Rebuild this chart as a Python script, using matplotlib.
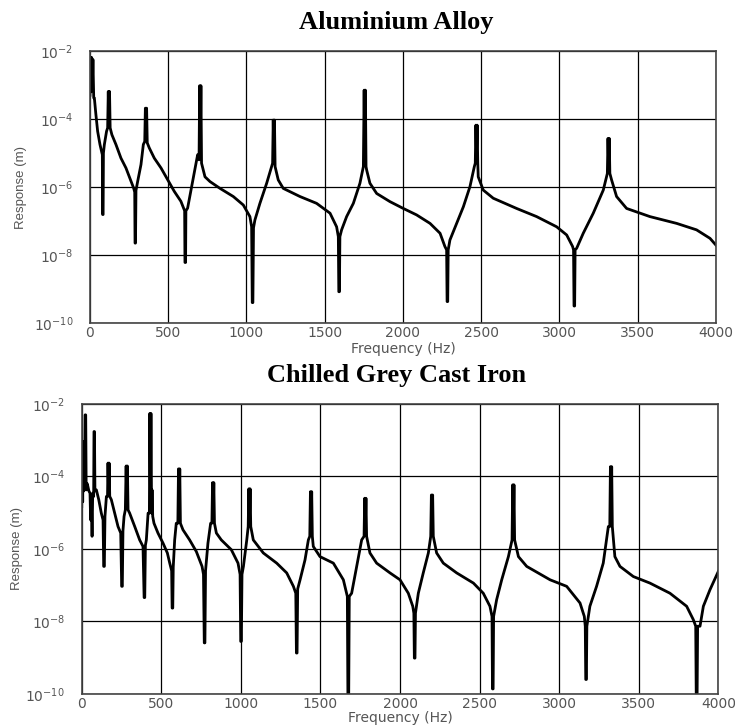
import numpy as np
import matplotlib
matplotlib.use("Agg")
import matplotlib.pyplot as plt
from matplotlib.ticker import NullLocator

# values: frequency (Hz) and log10 of response (m)
alu_freq = [0, 3, 7, 11, 15, 19, 24, 28, 38, 49, 64, 74, 79, 81, 84, 86, 92, 106, 113, 117,
            121, 125, 129, 140, 166, 198, 230, 262, 279, 286, 288, 291, 294, 305, 326, 341,
            350, 354, 358, 362, 366, 379, 411, 454, 496, 539, 581, 598, 605, 607, 611, 613,
            624, 656, 688, 697, 701, 705, 709, 713, 735, 767, 831, 916, 980, 1022, 1033,
            1037, 1041, 1045, 1054, 1086, 1129, 1161, 1167, 1171, 1175, 1179, 1183, 1203,
            1235, 1342, 1448, 1534, 1576, 1587, 1590, 1594, 1597, 1608, 1640, 1683, 1725,
            1747, 1752, 1756, 1760, 1764, 1768, 1789, 1832, 1917, 2002, 2087, 2173, 2237,
            2268, 2279, 2282, 2286, 2289, 2300, 2343, 2386, 2428, 2456, 2462, 2466, 2470,
            2474, 2478, 2481, 2513, 2577, 2726, 2854, 2982, 3046, 3084, 3090, 3093, 3097,
            3100, 3110, 3152, 3216, 3280, 3301, 3306, 3310, 3314, 3318, 3322, 3333, 3365,
            3429, 3578, 3749, 3876, 3962, 4000]
alu_exp = [-3.30, -2.19, -3.20, -2.19, -3.10, -2.25, -3.38, -3.38, -3.87, -4.36, -4.75, -4.95,
           -5.05, -6.81, -6.81, -5.00, -4.75, -4.36, -4.26, -3.19, -4.20, -3.19, -4.26, -4.46,
           -4.75, -5.15, -5.44, -5.83, -6.03, -6.15, -7.65, -7.65, -6.10, -5.83, -5.34, -4.75,
           -4.66, -3.68, -4.60, -3.68, -4.70, -4.85, -5.15, -5.44, -5.78, -6.13, -6.42, -6.62,
           -6.70, -8.22, -8.22, -6.70, -6.62, -5.83, -5.05, -5.20, -3.02, -4.80, -3.02, -5.30,
           -5.70, -5.84, -6.04, -6.28, -6.53, -6.87, -7.17, -9.40, -9.40, -7.20, -6.97, -6.48,
           -5.89, -5.40, -5.30, -4.03, -5.00, -4.03, -5.40, -5.79, -6.04, -6.28, -6.48, -6.77,
           -7.17, -7.46, -9.08, -9.08, -7.46, -7.26, -6.87, -6.48, -5.89, -5.40, -3.15, -5.00,
           -3.15, -5.40, -5.50, -5.89, -6.19, -6.43, -6.63, -6.82, -7.07, -7.36, -7.75, -7.85,
           -9.37, -9.37, -7.85, -7.56, -7.07, -6.58, -5.99, -5.40, -5.30, -4.18, -5.00, -4.18,
           -5.30, -5.70, -6.09, -6.33, -6.63, -6.87, -7.17, -7.41, -7.75, -7.85, -9.50, -9.50,
           -7.85, -7.80, -7.36, -6.77, -6.09, -5.70, -5.60, -4.57, -5.30, -4.57, -5.60, -5.79,
           -6.28, -6.63, -6.87, -7.07, -7.26, -7.51, -7.71]

iron_freq = [0, 3, 6, 9, 13, 18, 21, 25, 28, 35, 45, 52, 56, 60, 65, 69, 75, 77, 80, 83, 92,
             107, 123, 134, 138, 142, 146, 155, 162, 165, 169, 172, 176, 186, 207, 228, 245,
             251, 255, 259, 266, 274, 279, 283, 287, 291, 301, 333, 364, 385, 392, 396, 400,
             406, 417, 425, 428, 432, 435, 439, 442, 446, 454, 479, 511, 538, 553, 565, 568,
             572, 575, 584, 594, 604, 608, 612, 616, 620, 636, 678, 720, 756, 765, 770, 774,
             778, 793, 810, 818, 822, 826, 830, 834, 846, 877, 940, 982, 995, 999, 1003, 1007,
             1016, 1037, 1046, 1050, 1054, 1058, 1062, 1078, 1141, 1225, 1288, 1330, 1345,
             1349, 1353, 1357, 1372, 1403, 1424, 1433, 1437, 1441, 1445, 1449, 1455, 1497,
             1581, 1644, 1669, 1673, 1677, 1681, 1696, 1728, 1759, 1774, 1778, 1782, 1786,
             1790, 1811, 1853, 1937, 2000, 2052, 2080, 2087, 2090, 2094, 2097, 2115, 2146,
             2178, 2193, 2197, 2201, 2205, 2209, 2230, 2272, 2356, 2461, 2523, 2565, 2578,
             2581, 2585, 2588, 2607, 2639, 2681, 2704, 2708, 2712, 2716, 2720, 2744, 2796,
             2943, 3047, 3131, 3158, 3164, 3167, 3171, 3174, 3193, 3235, 3277, 3309, 3318,
             3322, 3326, 3330, 3334, 3350, 3382, 3466, 3570, 3696, 3801, 3843, 3858, 3862,
             3866, 3870, 3885, 3906, 3948, 4000]
iron_exp = [-4.83, -3.04, -4.70, -3.04, -4.40, -4.20, -2.30, -2.30, -4.37, -4.20, -4.40, -4.46,
            -5.20, -4.50, -5.65, -4.46, -4.55, -2.76, -2.76, -4.40, -4.37, -4.64, -5.01, -5.20,
            -6.48, -6.48, -5.10, -4.55, -4.55, -3.63, -4.50, -3.63, -4.55, -4.64, -5.01, -5.38,
            -5.56, -7.03, -7.03, -5.50, -5.10, -4.92, -3.71, -4.80, -3.71, -4.92, -5.01, -5.38,
            -5.75, -5.93, -7.34, -7.34, -5.90, -5.75, -5.01, -5.01, -2.26, -4.60, -2.26, -5.01,
            -4.37, -5.10, -5.29, -5.56, -5.84, -6.11, -6.39, -6.60, -7.63, -7.63, -6.50, -5.75,
            -5.29, -5.29, -3.79, -5.10, -3.79, -5.29, -5.47, -5.75, -6.07, -6.48, -6.70, -8.59,
            -8.59, -6.60, -5.84, -5.29, -5.29, -4.17, -5.00, -4.17, -5.29, -5.56, -5.75, -6.02,
            -6.39, -6.70, -8.55, -8.55, -6.70, -6.48, -5.75, -5.38, -4.34, -5.20, -4.34, -5.38,
            -5.75, -6.11, -6.39, -6.66, -7.03, -7.22, -8.87, -8.87, -7.10, -6.85, -6.30, -5.75,
            -5.65, -4.42, -5.40, -4.42, -5.65, -5.93, -6.21, -6.39, -6.85, -7.31, -10.5, -10.5,
            -7.31, -7.22, -6.48, -5.75, -5.65, -4.60, -5.40, -4.60, -5.65, -6.11, -6.39, -6.66,
            -6.85, -7.22, -7.58, -7.77, -9.01, -9.01, -7.77, -7.22, -6.66, -6.11, -5.65, -4.51,
            -5.40, -4.51, -5.65, -6.11, -6.39, -6.66, -6.94, -7.22, -7.58, -7.86, -9.86, -9.86,
            -7.86, -7.40, -6.85, -6.21, -5.75, -4.23, -5.40, -4.23, -5.75, -6.21, -6.48, -6.85,
            -7.03, -7.49, -7.86, -8.13, -9.60, -9.60, -8.13, -7.58, -7.03, -6.39, -5.38, -5.38,
            -3.73, -5.00, -3.73, -5.38, -6.21, -6.48, -6.76, -6.94, -7.22, -7.58, -7.95, -8.13,
            -10.5, -10.5, -8.13, -8.13, -7.58, -7.12, -6.62]

titles = ["Aluminium Alloy", "Chilled Grey Cast Iron"]
x_ticks = [0, 500, 1000, 1500, 2000, 2500, 3000, 3500, 4000]
y_ticks = [1e-10, 1e-8, 1e-6, 1e-4, 1e-2]

fig = plt.figure(figsize=(7.35, 7.27), dpi=100)
ax1 = fig.add_axes([0.1224, 0.5557, 0.8517, 0.3741])
ax2 = fig.add_axes([0.1112, 0.0454, 0.8661, 0.3989])

gray = "#555555"
panels = [(ax1, alu_freq, alu_exp, -0.1006, -0.068),
          (ax2, iron_freq, iron_exp, -0.092, -0.060)]

for ax, f, e, ylab_x, xlab_y in panels:
    ax.plot(f, 10.0 ** np.array(e), color="black", lw=2.0)
    ax.set_yscale("log")
    ax.set_xlim(0, 4000)
    ax.set_ylim(1e-10, 1e-2)
    ax.set_xticks(x_ticks)
    ax.set_yticks(y_ticks)
    ax.yaxis.set_minor_locator(NullLocator())
    ax.grid(True, color="black", lw=0.9)
    ax.tick_params(length=0, labelsize=10, labelcolor=gray)
    ax.tick_params(axis="x", pad=2)
    ax.tick_params(axis="y", pad=12)
    for s in ax.spines.values():
        s.set_color("#444444")
        s.set_linewidth(1.2)
    ax.set_xlabel("Frequency (Hz)", fontsize=10, color=gray)
    ax.xaxis.set_label_coords(0.5, xlab_y)
    ax.set_ylabel("Response (m)", fontsize=9.5, color=gray, family="Liberation Sans")
    ax.yaxis.set_label_coords(ylab_x, 0.5)

fig.text(0.539, 0.9597, titles[0], ha="center", va="baseline", fontsize=19,
         fontweight="bold", family="Liberation Serif")
fig.text(0.539, 0.4746, titles[1], ha="center", va="baseline", fontsize=19,
         fontweight="bold", family="Liberation Serif")

fig.savefig("out.png", dpi=100)
